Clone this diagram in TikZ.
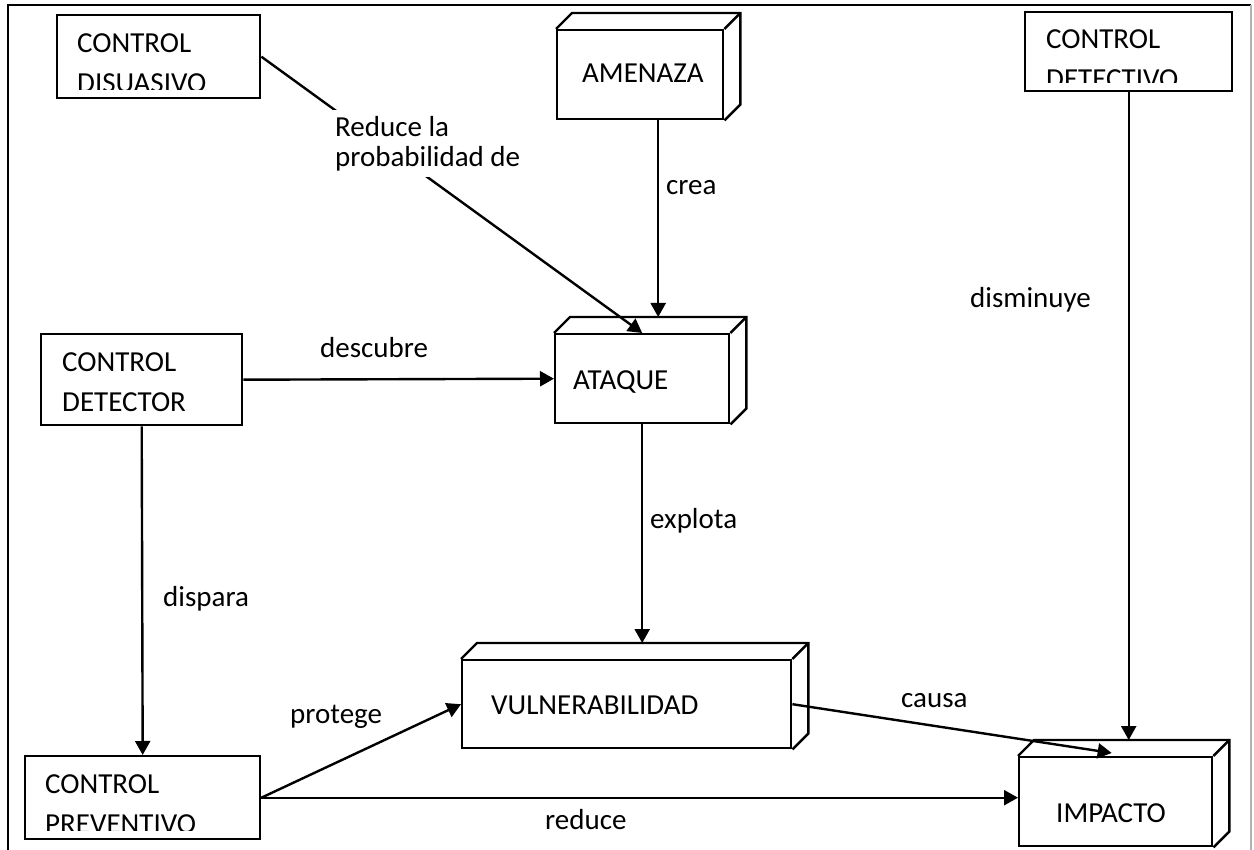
\documentclass[tikz,border=0pt]{standalone}
\usepackage{fontspec}
\setmainfont{Carlito}
\usetikzlibrary{arrows.meta}
\tikzset{
  box/.style={draw, line width=2.4pt, anchor=north west, inner sep=0pt},
  txt/.style={anchor=base west, inner sep=0pt, font=\fontsize{29}{40}\selectfont},
  lbl/.style={anchor=base west, inner sep=0pt, font=\fontsize{29}{40}\selectfont},
  arr/.style={line width=2.4pt, -{Triangle[length=14pt,width=15pt]}},
  ln/.style={line width=2.4pt}
}
\newcommand\depthbox[1]{%
  \draw[ln, line join=miter] (#1.north west) -- ++(16,-16) -- ([shift={(16,-16)}]#1.north east)
    -- ([shift={(16,-16)}]#1.south east) -- (#1.south east);
  \draw[ln] (#1.north east) -- ++(16,-16);}
\begin{document}
\begin{tikzpicture}[x=1pt,y=-1pt]
\useasboundingbox (0,0) rectangle (1254,850);
% frame
\coordinate (fa) at (8,850);
\coordinate (fb) at (8,5);
\coordinate (fc) at (1251,5);
\coordinate (fd) at (1251,850);
\draw[line width=2.2pt] (fa) -- (fb) -- (fc);
\draw[line width=1.5pt, gray!60] (fc) -- (fd);

% boxes
\node[box, minimum width=203pt, minimum height=83pt] (dis) at (56,14) {};
\node[box, minimum width=166pt, minimum height=89pt] (ame) at (556,29) {};
\node[box, minimum width=207pt, minimum height=79pt] (det) at (1024,11) {};
\node[box, minimum width=201pt, minimum height=91pt] (dor) at (40,333) {};
\node[box, minimum width=174pt, minimum height=89pt] (ata) at (554,333) {};
\node[box, minimum width=329pt, minimum height=88pt] (vul) at (461,659) {};
\node[box, minimum width=235pt, minimum height=83pt] (pre) at (24,755) {};
\node[box, minimum width=193pt, minimum height=89pt] (imp) at (1018,756) {};
\depthbox{ame}
\depthbox{ata}
\depthbox{vul}
\depthbox{imp}

% box texts
\begin{scope}
\clip (dis.north west) rectangle ([yshift=10pt]dis.south east);
\node[txt] (dis1) at (77,53) {CONTROL};
\node[txt] (dis2) at (77,93) {DISUASIVO};
\end{scope}
\begin{scope}
\clip (det.north west) rectangle ([yshift=10pt]det.south east);
\node[txt] (det1) at (1046,49) {CONTROL};
\node[txt] (det2) at (1046,89) {DETECTIVO};
\end{scope}
\begin{scope}
\clip (pre.north west) rectangle ([yshift=10pt]pre.south east);
\node[txt] (pre1) at (45,793) {CONTROL};
\node[txt] (pre2) at (45,833) {PREVENTIVO};
\end{scope}
\node[txt] (dor1) at (62,372) {CONTROL};
\node[txt] (dor2) at (62,412) {DETECTOR};
\node[txt] (amet) at (582,83) {AMENAZA};
\node[txt] (atat) at (573,390) {ATAQUE};
\node[txt] (vult) at (491,714) {VULNERABILIDAD};
\node[txt] (impt) at (1056,822) {IMPACTO};

% helper coordinates
\coordinate (atatop) at ([shift={(16,-16)}]ata.north);
\coordinate (vultop) at ([shift={(0,-16)}]vul.north);
\coordinate (imptop) at ([shift={(0,-16)}]imp.north);

% connectors
\draw[arr] (dis.east) -- (ata.north);
\draw[arr] (ame.south -| atatop) -- (atatop);
\draw[arr] (dor.east) -- (ata.west);
\draw[arr] (ata.south) -- (ata.south |- vultop);
\draw[arr] (dor.south) -- (pre.north);
\draw[arr] (pre.east) -- (vul.west);
\draw[arr] (pre.east) -- (imp.west |- pre.east);
\draw[arr] (vul.east) -- ([shift={(-4,-3)}]imp.north);
\draw[arr] (det.south) -- (det.south |- imptop);

% labels
\node[anchor=north west, fill=white, inner xsep=8pt, inner ysep=6pt, align=left,
      font=\fontsize{29}{30}\selectfont] (l1) at (327,110) {Reduce la\\probabilidad de};
\node[lbl] (l2) at (666,195) {crea};
\node[lbl] (l3) at (320,358) {descubre};
\node[lbl] (l4) at (650,528) {explota};
\node[lbl] (l5) at (163,606) {dispara};
\node[lbl] (l6) at (970,308) {disminuye};
\node[lbl] (l7) at (290,723) {protege};
\node[lbl] (l8) at (545,829) {reduce};
\node[lbl] (l9) at (901,707) {causa};
\end{tikzpicture}
\end{document}
